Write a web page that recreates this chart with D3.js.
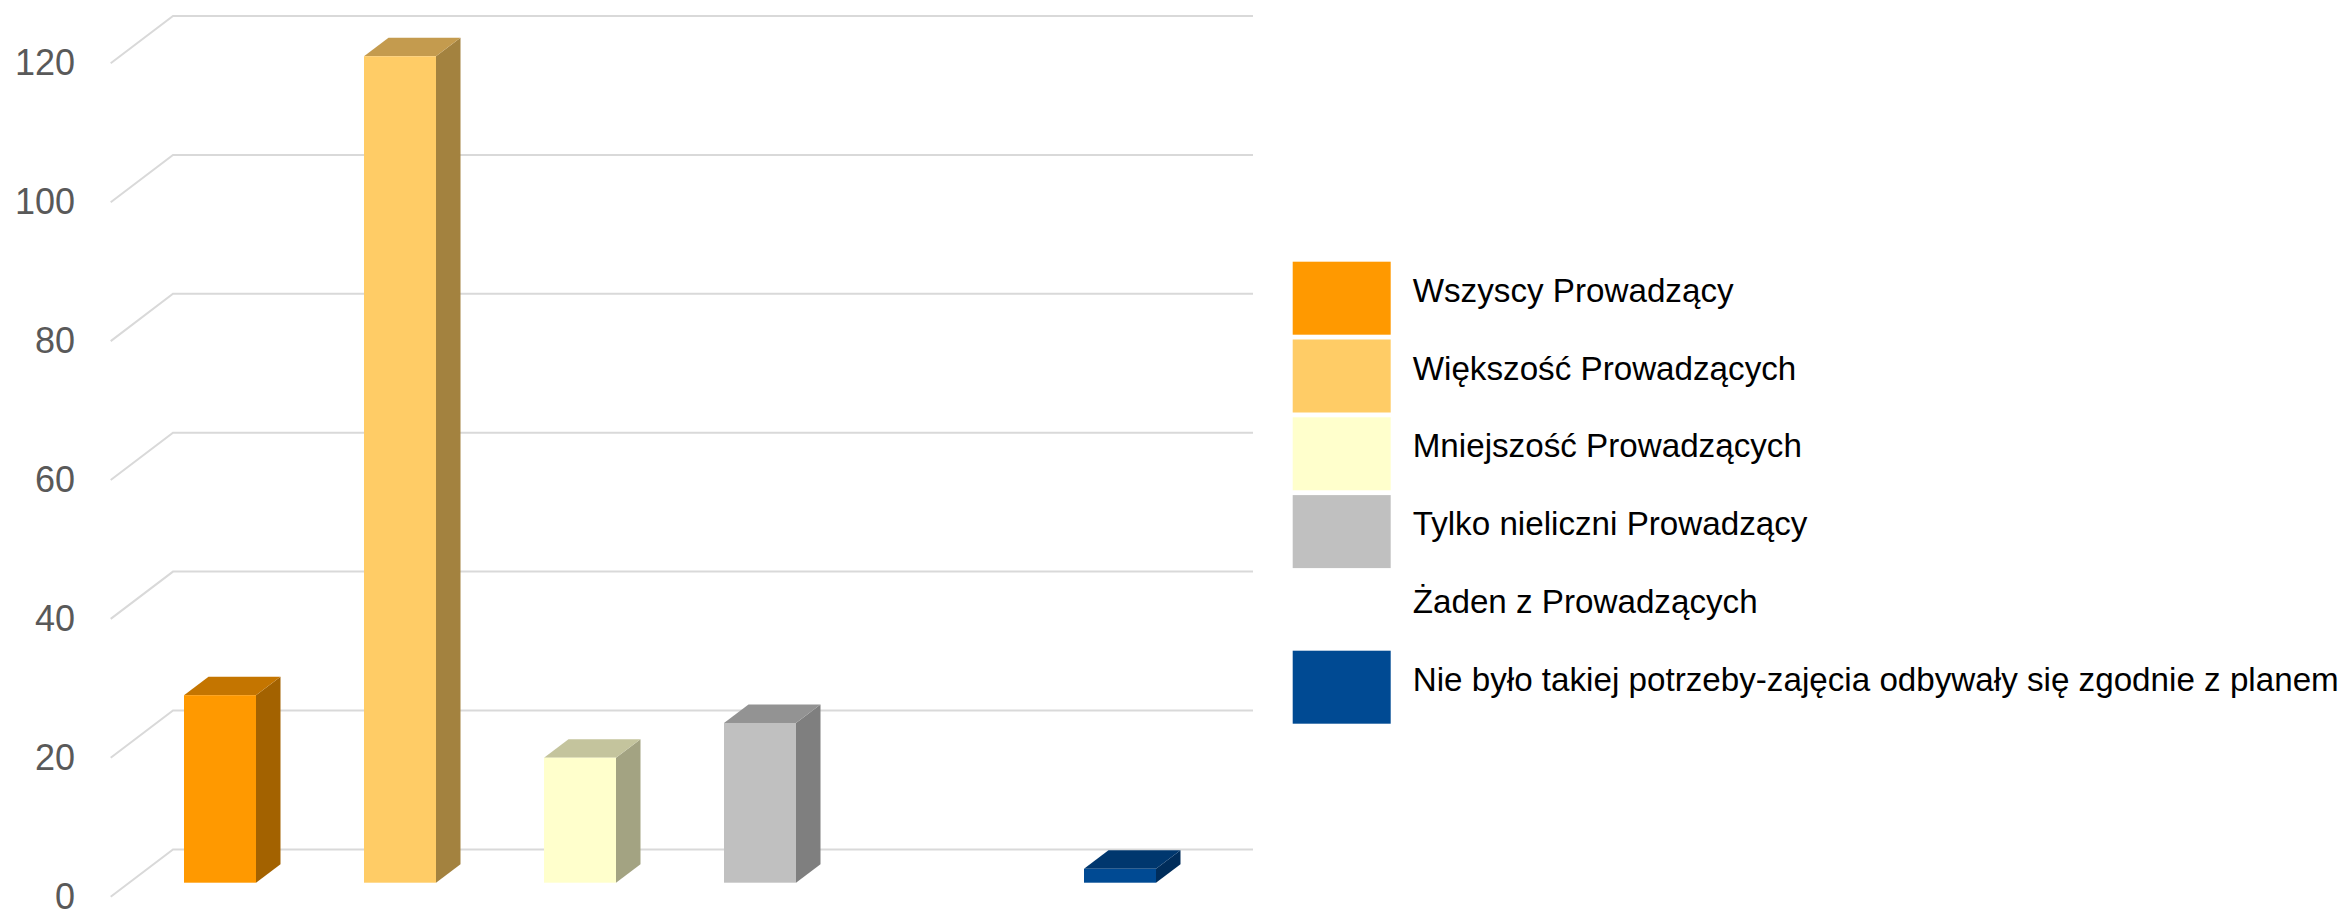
<!DOCTYPE html>
<html>
<head>
<meta charset="utf-8">
<script src="https://cdn.jsdelivr.net/npm/d3@7"></script>
<style>
  html, body { margin: 0; padding: 0; background: #ffffff; }
  svg { display: block; }
</style>
</head>
<body>
<svg id="chart" width="2348" height="911"></svg>
<script>
// ---- data ----
const categories = [
  "Wszyscy Prowadzący",
  "Większość Prowadzących",
  "Mniejszość Prowadzących",
  "Tylko nieliczni Prowadzący",
  "Żaden z Prowadzących",
  "Nie było takiej potrzeby-zajęcia odbywały się zgodnie z planem"
];
const values = [27, 119, 18, 23, 0, 2];
const tickValues = [0, 20, 40, 60, 80, 100, 120];
const frontColors = ["#FF9900", "#FFCC66", "#FFFFCC", "#C0C0C0", "#FFFFFF", "#004A93"];
const topColors   = ["#C47500", "#C49B4E", "#C4C49D", "#939393", "#FFFFFF", "#00376E"];
const sideColors  = ["#A36200", "#A3823F", "#A3A382", "#7F7F7F", "#FFFFFF", "#002D5B"];
const legendSwatch = [true, true, true, true, false, true];

// ---- layout ----
const svg = d3.select("#chart");
const wallDX = 62.3, wallDY = -47.3;      // depth of floor / walls
const wallLeft = 173, wallRight = 1253;   // back wall x extent
const frontY0 = 896.7, frontY120 = 63.3;  // front edge y for 0 and 120
const barDX = 24.5, barDY = -18.5;        // bar depth
const barY0 = 882.7;                      // bar front face baseline

const yGrid = d3.scaleLinear().domain([0, 120]).range([frontY0, frontY120]);
const yBar  = d3.scaleLinear().domain([0, 120]).range([barY0, barY0 - (frontY0 - frontY120)]);
const x = d3.scaleBand().domain(categories).range([130, 1210]).paddingInner(0.6).paddingOuter(0.3);

// gridlines (back wall + diagonal on side wall)
const grid = svg.append("g").attr("fill", "none").attr("stroke", "#D9D9D9").attr("stroke-width", 2);
tickValues.forEach(v => {
  const yf = yGrid(v), yb = yf + wallDY;
  grid.append("path")
    .attr("d", `M${wallLeft - wallDX},${yf}L${wallLeft},${yb}L${wallRight},${yb}`);
});

// axis labels
const axis = d3.axisLeft(yGrid).tickValues(tickValues).tickSize(0).tickPadding(0);
const ag = svg.append("g").attr("transform", "translate(75,0)").call(axis);
ag.select(".domain").remove();
ag.selectAll("text")
  .attr("fill", "#595959")
  .attr("font-family", "'Liberation Sans', Arial, Helvetica, sans-serif")
  .attr("font-size", 36)
  .attr("text-anchor", "end");

// bars
const bars = svg.append("g");
categories.forEach((c, i) => {
  const v = values[i];
  if (v <= 0) return;
  const x0 = x(c), w = x.bandwidth();
  const yt = yBar(v), yb = yBar(0);
  // side
  bars.append("path")
    .attr("d", `M${x0 + w},${yt}L${x0 + w + barDX},${yt + barDY}L${x0 + w + barDX},${yb + barDY}L${x0 + w},${yb}Z`)
    .attr("fill", sideColors[i]);
  // top
  bars.append("path")
    .attr("d", `M${x0},${yt}L${x0 + barDX},${yt + barDY}L${x0 + w + barDX},${yt + barDY}L${x0 + w},${yt}Z`)
    .attr("fill", topColors[i]);
  // front
  bars.append("rect")
    .attr("x", x0).attr("y", yt).attr("width", w).attr("height", yb - yt)
    .attr("fill", frontColors[i]);
});

// legend
const legend = svg.append("g").attr("transform", "translate(1292.7,261.7)");
const rowH = 77.8;
categories.forEach((c, i) => {
  const g = legend.append("g").attr("transform", `translate(0,${i * rowH})`);
  if (legendSwatch[i]) {
    g.append("rect").attr("x", 0).attr("y", 0).attr("width", 98).attr("height", 73)
      .attr("fill", frontColors[i]);
  }
  g.append("text")
    .attr("x", 120).attr("y", 40)
    .attr("fill", "#000000")
    .attr("font-family", "'Liberation Sans', Arial, Helvetica, sans-serif")
    .attr("font-size", 33.2)
    .text(c);
});
</script>
</body>
</html>
